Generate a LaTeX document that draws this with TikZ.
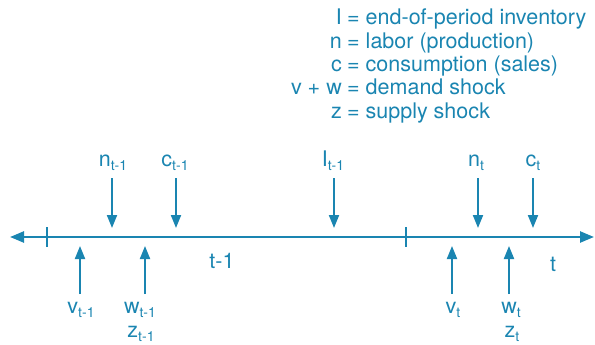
\documentclass[tikz,border=0pt]{standalone}
\usepackage{fontspec}
\setmainfont{TeX Gyre Heros}
\usetikzlibrary{arrows.meta}
\definecolor{tl}{HTML}{1A85B1}
\newcommand{\lsub}[1]{\raisebox{-4.5pt}{\fontsize{14}{14}\selectfont #1}}
\begin{document}
\begin{tikzpicture}[x=1pt,y=-1pt,
  every node/.style={text=tl,font=\fontsize{21.5}{23}\selectfont,inner sep=0pt},
  lbl/.style={anchor=base},
  arr/.style={draw=tl,line width=2pt,-{Triangle[length=13pt,width=10pt]}},
  axis/.style={draw=tl,line width=2.5pt,{Triangle[length=14pt,width=11pt]}-{Triangle[length=14pt,width=11pt]}},
  tick/.style={draw=tl,line width=2.2pt}]
\useasboundingbox (0,0) rectangle (595,345);
% legend
\node[anchor=base east] (k1) at (342,25) {I};
\node[anchor=base west] (d1) at (347,25) {= end-of-period inventory};
\node[anchor=base east] (k2) at (342,48.5) {n};
\node[anchor=base west] (d2) at (347,48.5) {= labor (production)};
\node[anchor=base east] (k3) at (342,72) {c};
\node[anchor=base west] (d3) at (347,72) {= consumption (sales)};
\node[anchor=base east] (k4) at (342,95) {v + w};
\node[anchor=base west] (d4) at (347,95) {= demand shock};
\node[anchor=base east] (k5) at (342,118.5) {z};
\node[anchor=base west] (d5) at (347,118.5) {= supply shock};
% timeline
\coordinate (L) at (10,237);
\coordinate (R) at (594,237);
\draw[axis] (L) -- (R);
\coordinate (t1a) at (47,227); \coordinate (t1b) at (47,247);
\coordinate (t2a) at (406,227); \coordinate (t2b) at (406,247);
\draw[tick] (t1a) -- (t1b);
\draw[tick] (t2a) -- (t2b);
\node[lbl] (p1) at (222,268) {t-1};
\node[lbl] (p2) at (553,271) {t};
% top labels and arrows
\node[lbl] (n1) at (113,166) {n\lsub{t-1}};
\node[lbl] (c1) at (175,166) {c\lsub{t-1}};
\node[lbl] (i1) at (333,166) {I\lsub{t-1}};
\node[lbl] (n2) at (476,166) {n\lsub{t}};
\node[lbl] (c2) at (533,166) {c\lsub{t}};
\foreach \nm/\x in {n1/112,c1/176,i1/334,n2/478,c2/533}{
  \coordinate (\nm s) at (\x,178);
  \coordinate (\nm e) at (\x,228);
  \draw[arr] (\nm s) -- (\nm e);
}
% bottom labels and arrows
\node[lbl] (v1) at (81,313) {v\lsub{t-1}};
\node[lbl] (w1) at (140,313) {w\lsub{t-1}};
\node[lbl] (z1) at (141,337) {z\lsub{t-1}};
\node[lbl] (v2) at (453,313) {v\lsub{t}};
\node[lbl] (w2) at (511,313) {w\lsub{t}};
\node[lbl] (z2) at (512,337) {z\lsub{t}};
\foreach \nm/\x in {v1/80,w1/145,v2/452,w2/509}{
  \coordinate (\nm s) at (\x,294);
  \coordinate (\nm e) at (\x,246);
  \draw[arr] (\nm s) -- (\nm e);
}
\end{tikzpicture}
\end{document}
